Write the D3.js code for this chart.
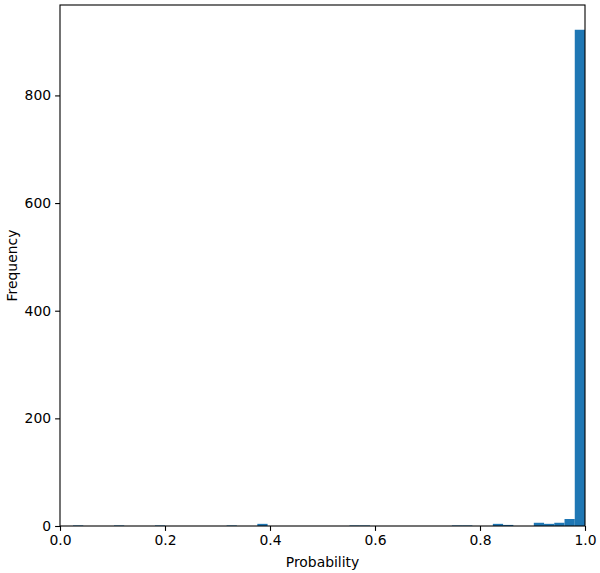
<!DOCTYPE html>
<html>
<head>
<meta charset="utf-8">
<script src="https://cdn.jsdelivr.net/npm/d3@7"></script>
<style>
  body { margin: 0; background: #fff; }
  text { font-family: "DejaVu Sans", sans-serif; }
</style>
</head>
<body>
<div id="chart"></div>
<script>
// histogram: 50 bins between the smallest and largest probability
const binLow = 0.0248;
const binHigh = 1.0;
const counts = [
  1, 0, 0, 0, 1, 0, 0, 0, 1, 0,
  0, 0, 0, 0, 0, 1, 0, 0, 4, 0,
  0, 0, 0, 0, 0, 0, 0, 1, 1, 0,
  0, 0, 0, 0, 0, 0, 0, 1, 1, 0,
  0, 4, 2, 0, 0, 6, 4, 6, 13, 922
];
const xTicks = [0, 0.2, 0.4, 0.6, 0.8, 1.0];
const yTicks = [0, 200, 400, 600, 800];

const W = 600, H = 573;
const margin = { top: 5, right: 15, bottom: 47, left: 60 };

const svg = d3.select("#chart").append("svg")
    .attr("width", W)
    .attr("height", H);

const x = d3.scaleLinear().domain([0, 1]).range([margin.left, W - margin.right]);
const y = d3.scaleLinear().domain([0, 968]).range([H - margin.bottom, margin.top]);

const step = (binHigh - binLow) / counts.length;
const bins = counts.map((c, i) => ({
    x0: binLow + i * step,
    x1: binLow + (i + 1) * step,
    count: c
}));

svg.append("g")
    .selectAll("rect")
    .data(bins.filter(d => d.count > 0))
    .join("rect")
    .attr("x", d => x(d.x0))
    .attr("width", d => x(d.x1) - x(d.x0))
    .attr("y", d => y(d.count))
    .attr("height", d => y(0) - y(d.count))
    .attr("fill", "#1f77b4");

const xAxis = d3.axisBottom(x)
    .tickValues(xTicks)
    .tickFormat(d3.format(".1f"))
    .tickSize(4.9)
    .tickPadding(4);

const yAxis = d3.axisLeft(y)
    .tickValues(yTicks)
    .tickFormat(d3.format("d"))
    .tickSize(4.9)
    .tickPadding(4);

const gx = svg.append("g")
    .attr("transform", `translate(0, ${H - margin.bottom})`)
    .call(xAxis);

const gy = svg.append("g")
    .attr("transform", `translate(${margin.left}, 0)`)
    .call(yAxis);

[gx, gy].forEach(g => {
    g.select(".domain").remove();
    g.selectAll(".tick line").attr("stroke", "#000").attr("stroke-width", 1.1);
    g.selectAll(".tick text")
        .attr("fill", "#000")
        .style("font-size", "13.9px")
        .style("font-family", "DejaVu Sans, sans-serif");
});

// frame
svg.append("rect")
    .attr("x", margin.left)
    .attr("y", margin.top)
    .attr("width", W - margin.left - margin.right)
    .attr("height", H - margin.top - margin.bottom)
    .attr("fill", "none")
    .attr("stroke", "#000")
    .attr("stroke-width", 1.1);

svg.append("text")
    .attr("x", (x(0) + x(1)) / 2)
    .attr("y", 567)
    .attr("text-anchor", "middle")
    .style("font-size", "13.9px")
    .text("Probability");

svg.append("text")
    .attr("transform", `translate(17, ${(y(0) + y(968)) / 2}) rotate(-90)`)
    .attr("text-anchor", "middle")
    .style("font-size", "13.9px")
    .text("Frequency");
</script>
</body>
</html>
